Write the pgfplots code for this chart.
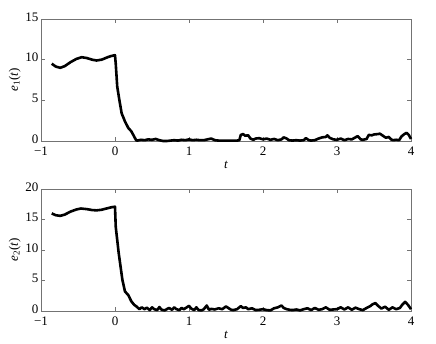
\documentclass[border=0pt]{standalone}
\usepackage{pgfplots}
\pgfplotsset{compat=1.18}
\usepackage{fontspec}
\setmainfont{Liberation Serif}
\begin{document}
\begin{tikzpicture}
\pgfplotsset{
  myax/.style={
    scale only axis, width=370pt, height=122pt,
    xmin=-1, xmax=4,
    xtick={-1,0,1,2,3,4},
    xticklabels={−1,0,1,2,3,4},
    tick align=inside,
    major tick length=4pt,
    axis line style={black!55, line width=0.7pt},
    tick style={black!55, line width=0.7pt},
    ticklabel style={font=\fontsize{13}{15}\selectfont},
    label style={font=\fontsize{13}{15}\selectfont},
    /pgf/number format/assume math mode=true,
    xlabel={\textit{t}},
    xlabel style={yshift=1pt},
    ylabel style={yshift=-2pt},
    xticklabel style={yshift=-2pt},
    yticklabel style={xshift=1pt, yshift=2pt},
    clip=false,
  }
}
\begin{axis}[myax, at={(0,0)}, anchor=south west,
  ymin=0, ymax=15, ytick={0,5,10,15},
  ylabel={\textit{e}\textsubscript{1}(\textit{t})}]
\addplot[black, line width=2.6pt, line join=round] coordinates {
(-0.855,9.5) (-0.80,9.15) (-0.74,9.0) (-0.68,9.2) (-0.60,9.7) (-0.52,10.1) (-0.45,10.3) (-0.38,10.2) (-0.31,10.0) (-0.25,9.9) (-0.18,10.0) (-0.10,10.3) (-0.05,10.45) (0,10.55)
(0.01,9.5) (0.03,6.7) (0.058,5.1) (0.09,3.4) (0.135,2.4) (0.18,1.6) (0.22,1.2) (0.25,0.7) (0.285,0.1)
(0.30,0.05) (0.35,0.15) (0.4,0.1) (0.45,0.2) (0.5,0.15) (0.55,0.25) (0.6,0.1) (0.65,0.0) (0.7,0.0) (0.75,0.05) (0.8,0.1) (0.85,0.05) (0.9,0.15) (0.95,0.1) (1.0,0.2) (1.05,0.1) (1.1,0.15) (1.15,0.1) (1.2,0.1) (1.25,0.2) (1.3,0.3) (1.35,0.1) (1.4,0.05) (1.45,0.05) (1.5,0.05) (1.55,0.05) (1.6,0.05) (1.65,0.05) (1.68,0.1) (1.70,0.75) (1.73,0.85) (1.76,0.65) (1.8,0.7) (1.83,0.3) (1.87,0.15) (1.9,0.3) (1.95,0.35) (2.0,0.2) (2.05,0.3) (2.1,0.15) (2.15,0.25) (2.2,0.1) (2.25,0.2) (2.28,0.45) (2.32,0.3) (2.35,0.1) (2.4,0.05) (2.45,0.1) (2.5,0.05) (2.55,0.1) (2.58,0.35) (2.62,0.1) (2.65,0.05) (2.7,0.1) (2.75,0.3) (2.8,0.45) (2.85,0.5) (2.87,0.7) (2.9,0.4) (2.95,0.2) (3.0,0.15) (3.05,0.3) (3.1,0.1) (3.15,0.25) (3.2,0.2) (3.25,0.45) (3.28,0.6) (3.32,0.2) (3.35,0.15) (3.4,0.25) (3.43,0.75) (3.47,0.7) (3.5,0.8) (3.55,0.85) (3.58,0.9) (3.62,0.65) (3.66,0.4) (3.7,0.5) (3.73,0.2) (3.76,0.1) (3.8,0.15) (3.84,0.1) (3.87,0.55) (3.91,0.85) (3.94,1.0) (3.97,0.75) (4.0,0.25)
};
\end{axis}
\begin{axis}[myax, at={(0,-170pt)}, anchor=south west,
  ymin=0, ymax=20, ytick={0,5,10,15,20},
  ylabel={\textit{e}\textsubscript{2}(\textit{t})}]
\addplot[black, line width=2.6pt, line join=round] coordinates {
(-0.855,16.0) (-0.80,15.7) (-0.74,15.6) (-0.68,15.8) (-0.60,16.3) (-0.52,16.65) (-0.46,16.8) (-0.38,16.7) (-0.31,16.55) (-0.25,16.5) (-0.18,16.6) (-0.10,16.85) (-0.05,17.0) (0,17.1)
(0.01,13.8) (0.05,9.5) (0.10,5.1) (0.135,3.2) (0.18,2.6) (0.22,1.6) (0.26,1.0) (0.285,0.8) (0.33,0.3)
(0.36,0.6) (0.4,0.3) (0.43,0.55) (0.47,0.15) (0.5,0.6) (0.53,0.3) (0.57,0.15) (0.6,0.65) (0.63,0.2) (0.67,0.1) (0.7,0.3) (0.73,0.5) (0.77,0.2) (0.8,0.6) (0.83,0.3) (0.87,0.15) (0.9,0.5) (0.93,0.3) (0.97,0.6) (1.0,0.85) (1.03,0.4) (1.07,0.15) (1.1,0.6) (1.13,0.15) (1.17,0.1) (1.2,0.3) (1.24,0.9) (1.27,0.2) (1.3,0.35) (1.35,0.25) (1.4,0.45) (1.45,0.3) (1.5,0.75) (1.53,0.5) (1.57,0.2) (1.6,0.15) (1.65,0.3) (1.7,0.8) (1.73,0.5) (1.77,0.6) (1.8,0.3) (1.85,0.45) (1.9,0.15) (1.95,0.2) (2.0,0.3) (2.05,0.15) (2.1,0.1) (2.15,0.45) (2.2,0.6) (2.25,0.9) (2.28,0.5) (2.32,0.3) (2.36,0.2) (2.4,0.15) (2.45,0.25) (2.5,0.1) (2.55,0.3) (2.6,0.45) (2.65,0.15) (2.7,0.5) (2.75,0.2) (2.8,0.3) (2.85,0.6) (2.9,0.2) (2.95,0.25) (3.0,0.3) (3.05,0.6) (3.1,0.25) (3.15,0.6) (3.2,0.2) (3.25,0.55) (3.3,0.3) (3.35,0.15) (3.4,0.5) (3.45,0.8) (3.48,1.1) (3.52,1.3) (3.55,0.9) (3.6,0.4) (3.65,0.7) (3.7,0.2) (3.75,0.6) (3.8,0.3) (3.85,0.5) (3.88,1.0) (3.92,1.5) (3.96,1.0) (4.0,0.3)
};
\end{axis}
\pgfresetboundingbox
\path[use as bounding box] (-41pt,-202pt) rectangle (395pt,141pt);
\end{tikzpicture}
\end{document}
